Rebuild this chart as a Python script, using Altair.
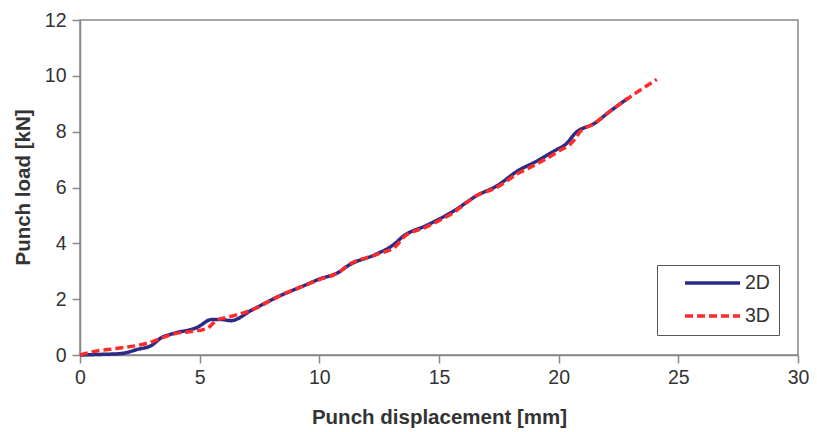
import altair as alt
import pandas as pd

x2d = [0, 0.8, 1.7, 2.4, 3.0, 3.4, 3.9, 4.9, 5.5, 5.9, 6.3, 7.2, 8.3, 9.4, 10.0, 10.8, 11.2,
       12.4, 13.1, 13.5, 14.5, 15.6, 16.6, 17.4, 18.3, 19.1, 19.9, 20.3, 20.7, 21.5, 22.1, 22.9]
y2d = [0, 0.02, 0.05, 0.2, 0.35, 0.62, 0.77, 0.99, 1.27, 1.27, 1.23, 1.62, 2.1, 2.5, 2.72, 2.96, 3.2,
       3.62, 3.95, 4.25, 4.65, 5.15, 5.72, 6.05, 6.6, 6.95, 7.35, 7.55, 7.95, 8.3, 8.7, 9.2]

x3d = [0, 0.6, 1.5, 2.8, 3.8, 5.3, 5.7, 6.3, 7.2, 8.3, 9.4, 10.0, 10.8, 11.2, 12.4, 13.2, 13.5,
       14.5, 15.6, 16.6, 17.4, 18.3, 19.1, 20.0, 20.6, 20.9, 21.5, 22.1, 23.2, 24.1]
y3d = [0, 0.13, 0.23, 0.42, 0.73, 0.95, 1.24, 1.38, 1.62, 2.1, 2.5, 2.7, 2.96, 3.22, 3.6, 3.9, 4.2,
       4.6, 5.1, 5.72, 6.0, 6.5, 6.85, 7.3, 7.65, 8.0, 8.3, 8.7, 9.37, 9.87]

series = ["2D", "3D"]
colors = ["#2b2a86", "#ff2a2a"]

rows = []
for i, (x, y) in enumerate(zip(x2d, y2d)):
    rows.append({"series": "2D", "x": x, "y": y, "order": i})
for i, (x, y) in enumerate(zip(x3d, y3d)):
    rows.append({"series": "3D", "x": x, "y": y, "order": i})
df = pd.DataFrame(rows)

font = "Liberation Sans"

chart = alt.Chart(df).mark_line(strokeWidth=3.5, interpolate="monotone").encode(
    x=alt.X("x:Q", scale=alt.Scale(domain=[0, 30], nice=False),
            axis=alt.Axis(values=[0, 5, 10, 15, 20, 25, 30], title="Punch displacement [mm]",
                          titleY=62, titleBaseline="middle", labelPadding=5)),
    y=alt.Y("y:Q", scale=alt.Scale(domain=[0, 12], nice=False),
            axis=alt.Axis(values=[0, 2, 4, 6, 8, 10, 12], title="Punch load [kN]",
                          titleX=-57, titleY=167, titleBaseline="middle", titleAngle=-90,
                          labelPadding=6)),
    color=alt.Color("series:N", scale=alt.Scale(domain=series, range=colors),
                    legend=alt.Legend(title=None)),
    strokeDash=alt.StrokeDash("series:N", scale=alt.Scale(domain=series, range=[[1, 0], [8, 4]]),
                              legend=alt.Legend(title=None)),
    order="order:Q",
).properties(
    width=718, height=335,
    autosize=alt.AutoSizeParams(type="none"),
    padding={"left": 72, "top": 12, "right": 11, "bottom": 77},
).configure_view(
    stroke="#888888", strokeWidth=1.5
).configure_axis(
    grid=False, domainColor="#888888", domainWidth=1.5, tickColor="#888888", tickWidth=1.5,
    tickSize=8, labelFont=font, labelFontSize=19.5, labelColor="#333333", labelFlush=False,
    labelOverlap=False,
    titleFont=font, titleFontSize=20.5, titleFontWeight="bold", titleColor="#333333",
).configure_legend(
    orient="none", legendX=577, legendY=245, strokeColor="#555555", fillColor="white",
    padding=9, symbolType="stroke", symbolSize=3025, symbolStrokeWidth=3.5, clipHeight=18,
    symbolOffset=17, labelFont=font, labelFontSize=19.5, labelColor="#333333", labelOffset=3,
    rowPadding=13, labelLimit=200,
)

chart.save("out.html", embed_options={"renderer": "svg", "actions": False})
